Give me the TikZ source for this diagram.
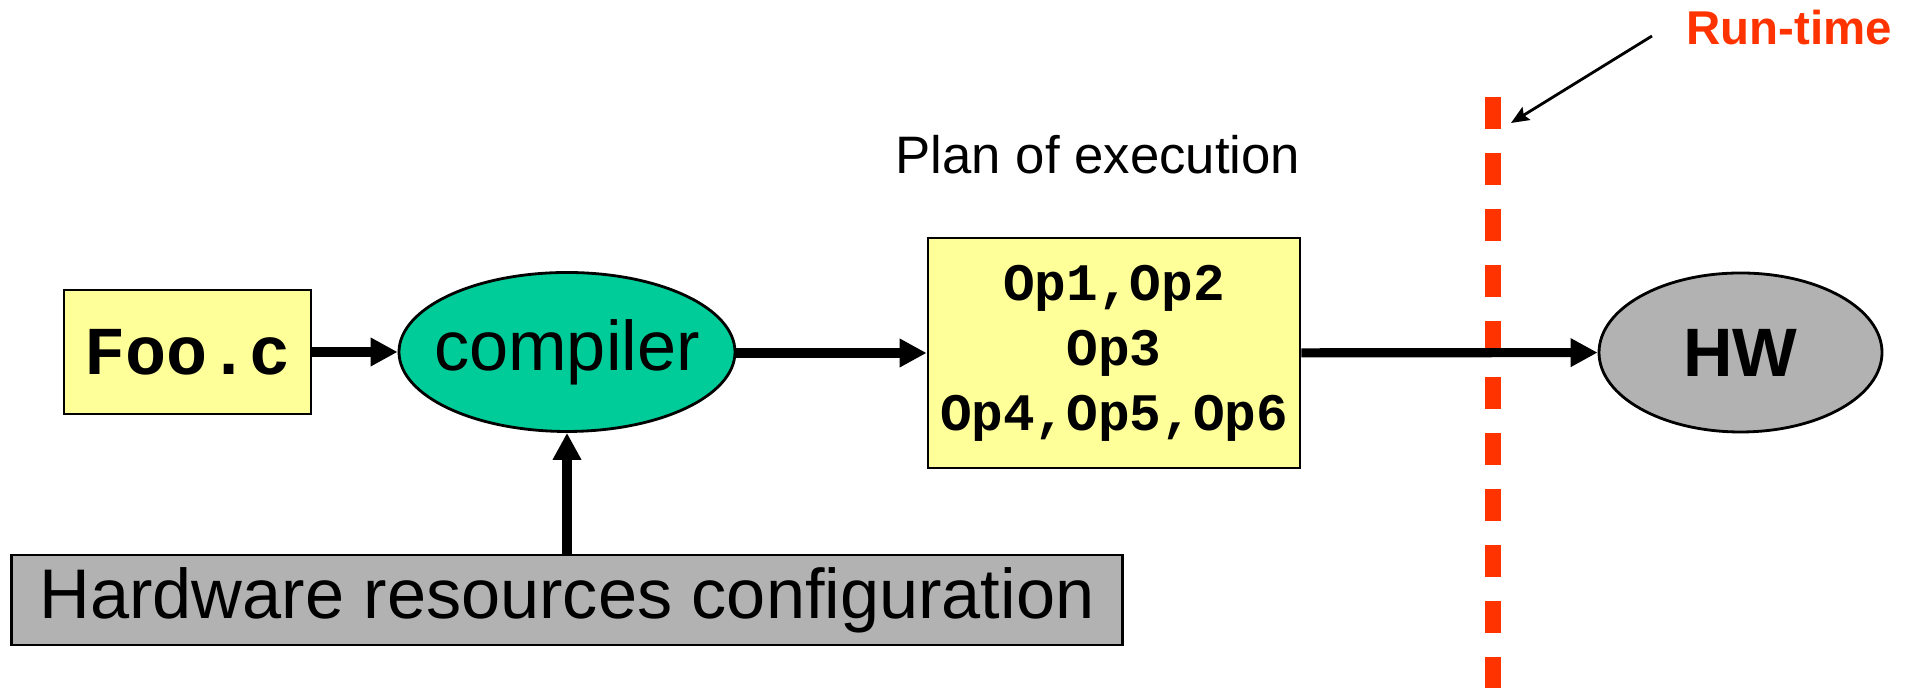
\documentclass[tikz,border=0pt]{standalone}
\usepackage{fontspec}
\setmainfont{Liberation Sans}
\setmonofont{Liberation Mono}
\usepackage{tikz}
\usetikzlibrary{arrows.meta}
\usetikzlibrary{shapes.geometric}
\usetikzlibrary{positioning}
\definecolor{srcyellow}{HTML}{FFFF99}
\definecolor{compgreen}{HTML}{00CC99}
\definecolor{hwgray}{HTML}{B2B2B2}
\definecolor{runred}{HTML}{FF3300}

\begin{document}
\begin{tikzpicture}[>={Triangle[length=0.27cm,width=0.27cm]}]
  \tikzset{every node/.style={inner sep=0pt},
    srcbox/.style={draw, line width=0.8pt, fill=srcyellow, align=center},
    blob/.style={ellipse, draw, line width=0.8pt},
    flow/.style={->, line width=2.6pt}}
  \useasboundingbox (0,0) rectangle (19.05,6.88);

  \node[srcbox, minimum width=2.47cm, minimum height=1.24cm,
    font=\ttfamily\bfseries\fontsize{19.5}{22}\selectfont] (foo) at (1.875,3.36) {Foo.c};
  \node[blob, fill=compgreen, minimum width=3.36cm, minimum height=1.59cm] (comp) at (5.67,3.36) {};
  \node[font=\fontsize{20}{24}\selectfont] (complbl) at (comp) {compiler};
  \node[srcbox, minimum width=3.72cm, minimum height=2.30cm,
    font=\ttfamily\bfseries\fontsize{15}{18.5}\selectfont] (plan) at (11.14,3.35)
    {Op1,Op2\\Op3\\Op4,Op5,Op6};
  \node[anchor=base, font=\fontsize{15}{18}\selectfont] (planlbl) at (10.98,5.14) {Plan of execution};
  \node[blob, fill=hwgray, minimum width=2.83cm, minimum height=1.59cm,
    font=\bfseries\fontsize{19.5}{23}\selectfont] (hw) at (17.405,3.355) {HW};
  \node[draw, line width=0.8pt, fill=hwgray, minimum width=11.11cm, minimum height=0.90cm,
    font=\fontsize{20}{24}\selectfont] (hwconf) at (5.67,0.88) {Hardware resources configuration};

  % run-time boundary
  \coordinate (rtop) at (14.93,5.905);
  \coordinate (rbot) at (14.93,0);
  \draw[runred, line width=0.16cm, dash pattern=on 0.32cm off 0.24cm] (rtop) -- (rbot);
  \node[anchor=base, text=runred, font=\bfseries\fontsize{13.5}{16}\selectfont] (runlbl) at (17.89,6.43) {Run-time};
  \coordinate (rtail) at (16.52,6.52);
  \coordinate (rtip) at (15.11,5.65);
  \draw[-{Stealth[length=0.18cm,width=0.15cm,inset=0.03cm]}, line width=0.8pt] (rtail) -- (rtip);

  \draw[flow] (foo) -- (comp);
  \draw[flow] (comp.east |- plan) -- (plan);
  \draw[flow] (plan) -- (hw);
  \draw[flow] (hwconf) -- (comp);
\end{tikzpicture}
\end{document}
